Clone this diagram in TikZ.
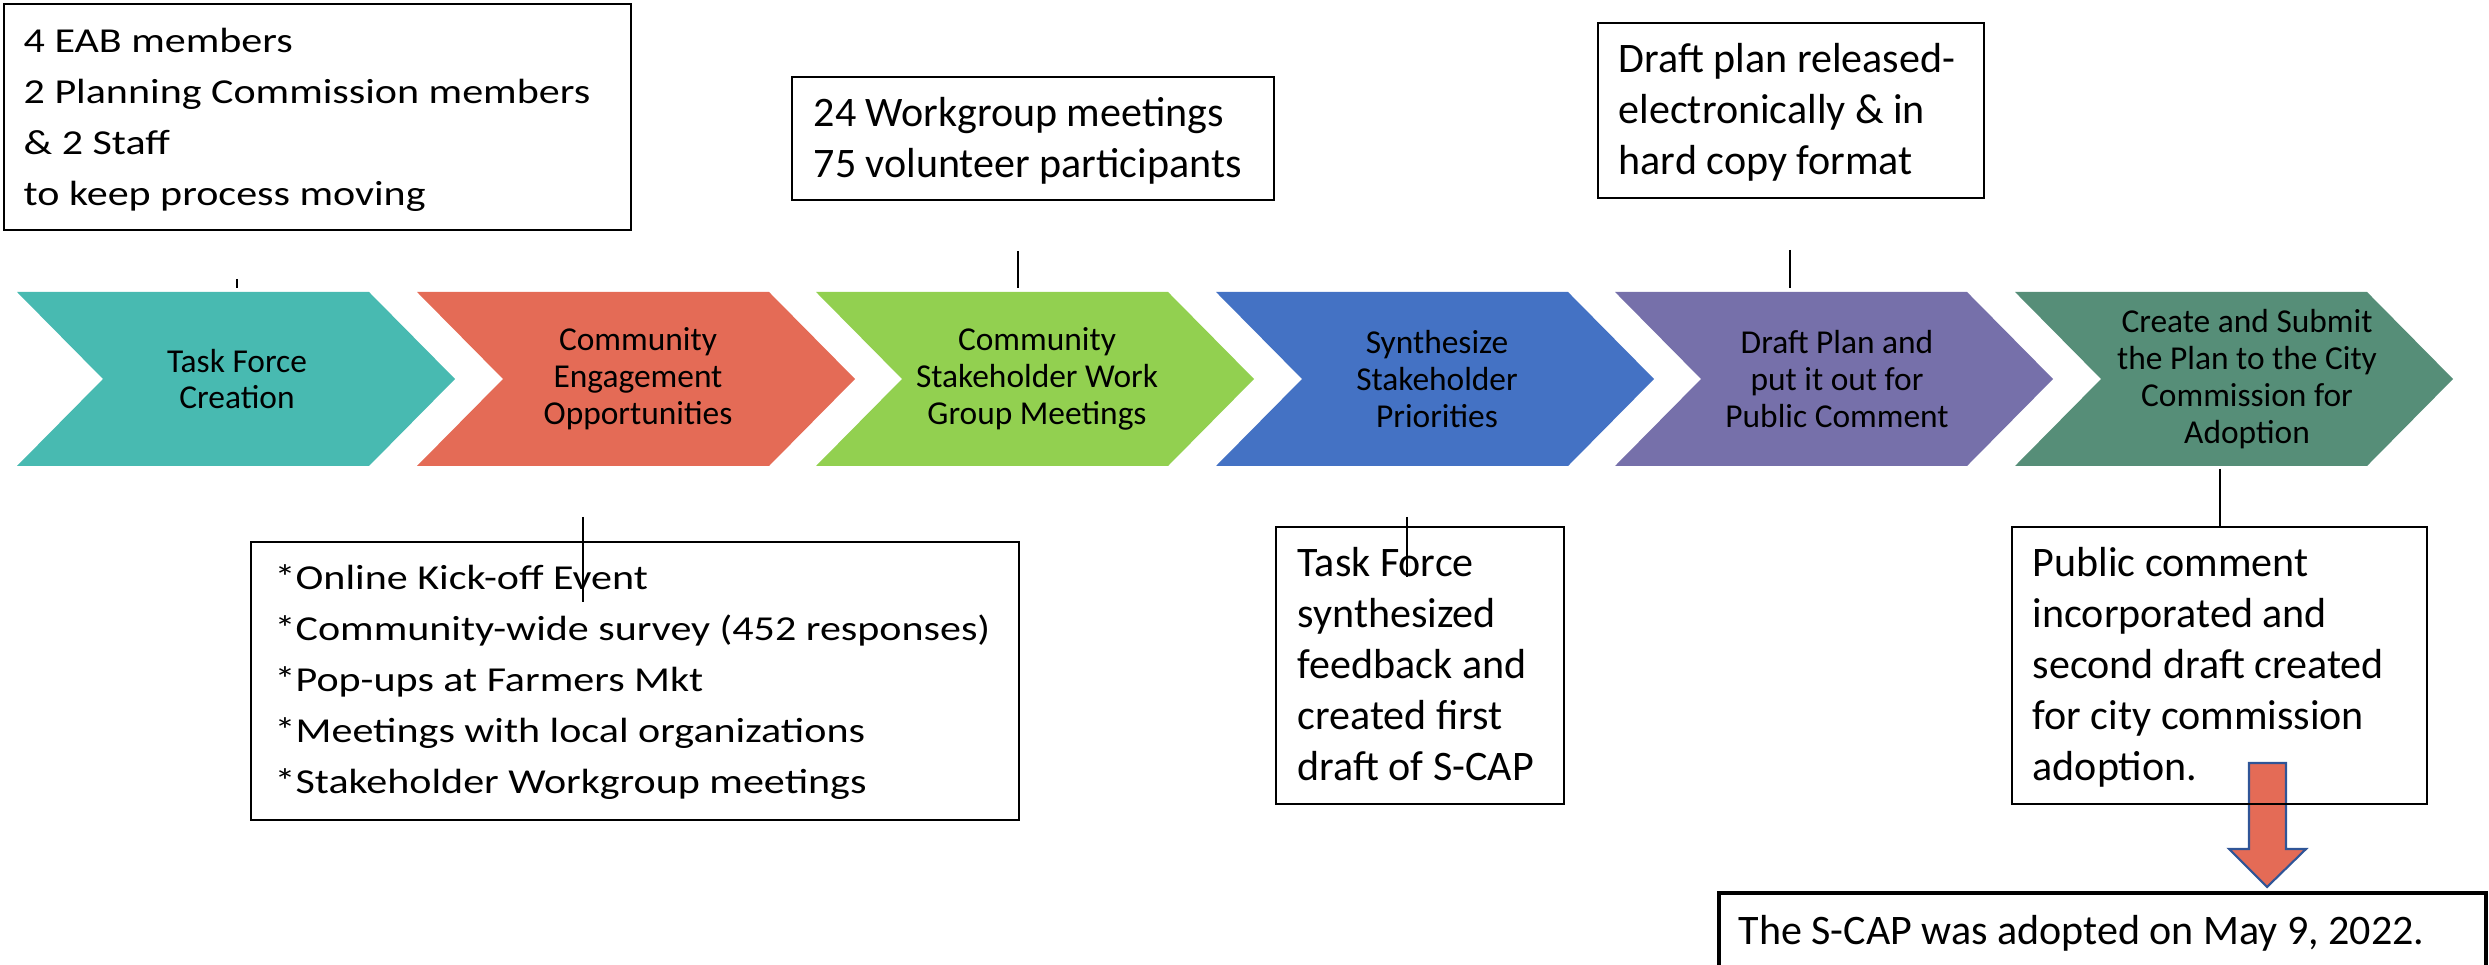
\documentclass[tikz,border=0pt]{standalone}
\usepackage{fontspec}
\setmainfont{Carlito}
\newfontfamily\sqfont[FakeStretch=1.2]{Carlito}
\usetikzlibrary{fit}
\definecolor{cteal}{HTML}{48BAB1}
\definecolor{cred}{HTML}{E46B56}
\definecolor{cgreen}{HTML}{92D050}
\definecolor{cblue}{HTML}{4472C4}
\definecolor{cpurple}{HTML}{7670AA}
\definecolor{cdkgreen}{HTML}{568E78}
\definecolor{arrowedge}{HTML}{2F5597}
\newcommand\mylines[1]{\begin{tabular}[t]{@{}l@{}}#1\end{tabular}}
\newcommand\chevshape[2]{% #1 left x, #2 colour
  \fill[#2] (#1,292) -- ++(352,0) -- ++(86,87) -- ++(-86,87) -- ++(-352,0) -- ++(86,-87) -- cycle;
}
\begin{document}
\begin{tikzpicture}[x=0.01cm,y=-0.01cm,
  boxframe/.style={draw=black, line width=0.75pt, inner sep=0pt},
  boxtxt/.style={inner sep=0pt, anchor=base west, font=\fontsize{11.95pt}{14.5pt}\selectfont},
  sqtxt/.style={inner sep=0pt, anchor=base west, font=\sqfont\fontsize{9.96pt}{14.5pt}\selectfont},
  chevtxt/.style={inner sep=0pt, align=center, font=\fontsize{9.5pt}{10.5pt}\selectfont},
  tick/.style={draw=black, line width=0.55pt}]
\useasboundingbox (0,0) rectangle (2489,965);
\clip (0,0) rectangle (2489,965);

% chevrons
\chevshape{17}{cteal}
\chevshape{417}{cred}
\chevshape{816}{cgreen}
\chevshape{1216}{cblue}
\chevshape{1615}{cpurple}
\chevshape{2015}{cdkgreen}
\node[chevtxt] (c1) at (237,379) {Task Force\\Creation};
\node[chevtxt] (c2) at (638,379) {Community\\Engagement\\Opportunities};
\node[chevtxt] (c3) at (1037,379) {Community\\Stakeholder Work\\Group Meetings};
\node[chevtxt] (c4) at (1437,379) {Synthesize\\Stakeholder\\Priorities};
\node[chevtxt] (c5) at (1837,379) {Draft Plan and\\put it out for\\Public Comment};
\node[chevtxt] (c6) at (2247,379) {Create and Submit\\the Plan to the City\\Commission for\\Adoption};

% red arrow
\filldraw[fill=cred, draw=arrowedge, line width=0.6pt, line join=miter]
  (2249,763) -- (2286,763) -- (2286,849) -- (2306,849) -- (2267,887) -- (2229,849) -- (2249,849) -- cycle;

% boxes
\node[boxframe, fit={(4,4) (631,230)}] (b1) {};
\node[boxframe, fit={(792,77) (1274,200)}] (b2) {};
\node[boxframe, fit={(1598,23) (1984,198)}] (b3) {};
\node[boxframe, fit={(251,542) (1019,820)}] (b4) {};
\node[boxframe, fit={(1276,527) (1564,804)}] (b5) {};
\node[boxframe, fit={(2012,527) (2427,804)}] (b6) {};
\node[boxframe, line width=1.2pt, fit={(1719,893) (2486,990)}] (b7) {};

\node[sqtxt] (b1t) at (23,53) {\mylines{4 EAB members\\2 Planning Commission members\\\& 2 Staff\\to keep process moving}};
\node[boxtxt] (b2t) at (813,127) {\mylines{24 Workgroup meetings\\75 volunteer participants}};
\node[boxtxt] (b3t) at (1618,73) {\mylines{Draft plan released-\\electronically \& in\\hard copy format}};
\node[sqtxt] (b4t) at (274,590) {\mylines{{*}Online Kick-off Event\\{*}Community-wide survey (452 responses)\\{*}Pop-ups at Farmers Mkt\\{*}Meetings with local organizations\\{*}Stakeholder Workgroup meetings}};
\node[boxtxt] (b5t) at (1297,577) {\mylines{Task Force\\synthesized\\feedback and\\created first\\draft of S-CAP}};
\node[boxtxt] (b6t) at (2032,577) {\mylines{Public comment\\incorporated and\\second draft created\\for city commission\\adoption.}};
\node[boxtxt] (b7t) at (1738,945) {The S-CAP was adopted on May 9, 2022.};

% ticks
\coordinate (t1a) at (237,279); \coordinate (t1b) at (237,288);
\coordinate (t2a) at (1018,251); \coordinate (t2b) at (1018,288);
\coordinate (t3a) at (1790,250); \coordinate (t3b) at (1790,288);
\coordinate (t4a) at (583,517); \coordinate (t4b) at (583,602);
\coordinate (t5a) at (1407,517); \coordinate (t5b) at (1407,577);
\coordinate (t6a) at (2220,469); \coordinate (t6b) at (2220,527);
\draw[tick] (t1a) -- (t1b);
\draw[tick] (t2a) -- (t2b);
\draw[tick] (t3a) -- (t3b);
\draw[tick] (t4a) -- (t4b);
\draw[tick] (t5a) -- (t5b);
\draw[tick] (t6a) -- (t6b);
\end{tikzpicture}
\end{document}
